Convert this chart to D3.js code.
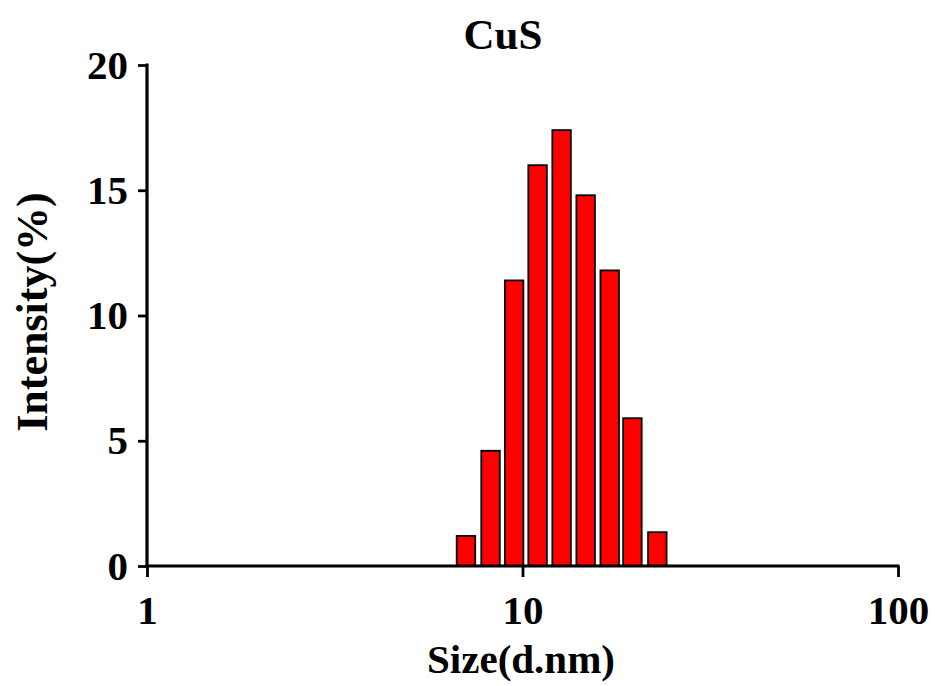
<!DOCTYPE html>
<html>
<head>
<meta charset="utf-8">
<script src="https://cdn.jsdelivr.net/npm/d3@7"></script>
<style>
  body { margin: 0; background: #fff; }
  text { font-family: "Liberation Serif", "Times New Roman", serif; font-weight: bold; fill: #000; }
</style>
</head>
<body>
<svg id="chart" width="935" height="686"></svg>
<script>
// bin centres (nm) and intensities (%)
var sizes = [7.07, 8.22, 9.50, 10.97, 12.71, 14.73, 17.07, 19.62, 22.86];
var intensity = [1.2, 4.6, 11.4, 16.0, 17.4, 14.8, 11.8, 5.9, 1.35];
var xTicks = [1, 10, 100];
var yTicks = [0, 5, 10, 15, 20];

const svg = d3.select("#chart"),
  plotL = 147, plotR = 898, plotT = 65, plotB = 566,
  barW = 18.5;

const x = d3.scaleLog().domain([1, 100]).range([plotL, plotR]);
const y = d3.scaleLinear().domain([0, 20]).range([plotB, plotT]);

var data = sizes.map((s, i) => ({size: s, value: intensity[i]}));

// bars
svg.append("g").selectAll("rect")
  .data(data)
  .enter().append("rect")
  .attr("x", d => x(d.size) - barW / 2)
  .attr("y", d => y(d.value))
  .attr("width", barW)
  .attr("height", d => y(0) - y(d.value))
  .attr("fill", "#ff0000")
  .attr("stroke", "#000")
  .attr("stroke-width", 1.8);

// x axis
const gx = svg.append("g")
  .attr("transform", `translate(0,${plotB})`)
  .call(d3.axisBottom(x).tickValues(xTicks).tickFormat(d3.format("d")).tickSize(11).tickPadding(18).tickSizeOuter(0));

// y axis
const gy = svg.append("g")
  .attr("transform", `translate(${plotL},0)`)
  .call(d3.axisLeft(y).tickValues(yTicks).tickSize(9).tickPadding(10).tickSizeOuter(0));

[gx, gy].forEach(g => {
  g.select(".domain").attr("stroke", "#000").attr("stroke-width", 3.2);
  g.selectAll(".tick line").attr("stroke", "#000").attr("stroke-width", 2.8);
  g.selectAll(".tick text").style("font-size", "41px").attr("fill", "#000");
});
gx.select(".domain").attr("d", `M${plotL - 1.5},0H${plotR + 1.5}`);
gy.select(".domain").attr("d", `M0,${plotT - 1.5}V${plotB + 1.5}`);

// title and axis labels
svg.append("text")
  .attr("x", 503).attr("y", 49)
  .attr("text-anchor", "middle")
  .style("font-size", "43px")
  .text("CuS");

svg.append("text")
  .attr("x", 521).attr("y", 673)
  .attr("text-anchor", "middle")
  .style("font-size", "41px")
  .text("Size(d.nm)");

svg.append("text")
  .attr("transform", "translate(47,312) rotate(-90)")
  .attr("text-anchor", "middle")
  .style("font-size", "44px")
  .text("Intensity(%)");
</script>
</body>
</html>
